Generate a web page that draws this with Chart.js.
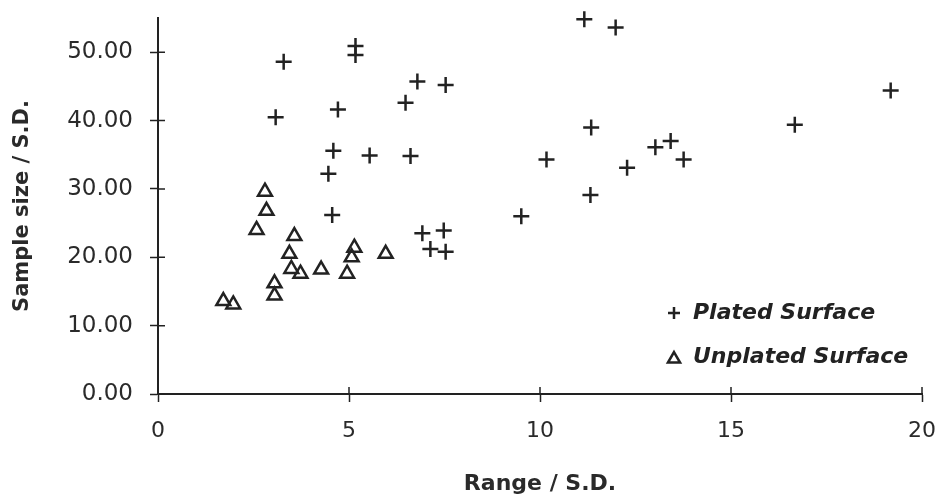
<!DOCTYPE html>
<html lang="en">
<head>
    <meta charset="UTF-8">
    <title>Sample size vs Range</title>
    <script src="https://cdn.jsdelivr.net/npm/chart.js"></script>
    <style>
        body {
            margin: 0;
            background-color: #fff;
        }

        #chart-container {
            width: 943px;
            height: 499px;
        }
    </style>
</head>
<body>
    <div id="chart-container">
        <canvas id="scatterChart"></canvas>
    </div>

    <script>
        // values
        const platedX = [3.29, 5.17, 5.17, 6.79, 7.53, 6.48, 3.08, 4.71, 4.59, 5.54, 6.61, 4.46, 4.56, 6.92, 7.48, 7.13, 7.53,
                         11.16, 11.98, 11.34, 10.17, 13.02, 13.42, 13.76, 12.28, 11.32, 9.51, 16.67, 19.18];
        const platedY = [48.6, 50.9, 49.6, 45.7, 45.2, 42.6, 40.5, 41.6, 35.6, 34.9, 34.8, 32.2, 26.2, 23.5, 23.9, 21.2, 20.8,
                         54.8, 53.6, 39.0, 34.3, 36.1, 37.0, 34.3, 33.1, 29.1, 26.0, 39.4, 44.4];

        const unplatedX = [2.80, 2.84, 2.58, 3.57, 3.44, 3.49, 3.73, 4.27, 4.95, 5.07, 5.14, 5.96, 3.05, 3.05, 1.71, 1.97];
        const unplatedY = [29.6, 26.8, 24.0, 23.1, 20.5, 18.3, 17.6, 18.2, 17.6, 20.0, 21.4, 20.5, 16.2, 14.4, 13.6, 13.1];

        const xTicks = [0, 5, 10, 15, 20];
        const yTicks = [0, 10, 20, 30, 40, 50];

        const seriesNames = ["Plated Surface", "Unplated Surface"];

        const ink = "#222";

        function toPoints(xs, ys) {
            return xs.map((x, i) => ({ x: x, y: ys[i] }));
        }

        // no extra room for half labels, the plot box is set by layout padding
        function noLabelPadding(scale) {
            scale.paddingTop = 0;
            scale.paddingBottom = 0;
            scale.paddingLeft = 0;
            scale.paddingRight = 0;
        }

        // small ticks that cross the axis lines, the way the old plot has them
        const crossTicks = {
            id: "crossTicks",
            afterDraw(chart) {
                const ctx = chart.ctx;
                const xs = chart.scales.x;
                const ys = chart.scales.y;
                ctx.save();
                ctx.strokeStyle = ink;
                ctx.lineWidth = 1.5;
                ctx.beginPath();
                xs.ticks.forEach(t => {
                    const px = xs.getPixelForValue(t.value);
                    ctx.moveTo(px, xs.top);
                    ctx.lineTo(px, xs.top - 7);
                });
                ys.ticks.forEach(t => {
                    const py = ys.getPixelForValue(t.value);
                    ctx.moveTo(ys.right, py);
                    ctx.lineTo(ys.right + 7, py);
                });
                ctx.stroke();
                ctx.restore();
            }
        };

        // legend sits inside the plot, bottom right
        const insideLegend = {
            id: "insideLegend",
            afterDraw(chart) {
                const ctx = chart.ctx;
                const styles = ["cross", "triangle"];
                const radius = [6, 7];
                const rows = [313, 357];
                ctx.save();
                ctx.font = "italic bold 22px 'DejaVu Sans'";
                ctx.textBaseline = "middle";
                seriesNames.forEach((name, i) => {
                    ctx.strokeStyle = ink;
                    ctx.fillStyle = "rgba(255,255,255,0)";
                    ctx.lineWidth = 2.5;
                    Chart.helpers.drawPoint(ctx, {
                        pointStyle: styles[i],
                        radius: radius[i],
                        borderWidth: 2.5,
                        rotation: 0
                    }, 674, rows[i] + (i === 1 ? 2 : 0));
                    ctx.fillStyle = ink;
                    ctx.fillText(name, 693, rows[i]);
                });
                ctx.restore();
            }
        };

        function renderChart() {
            const ctx = document.getElementById("scatterChart").getContext("2d");

            new Chart(ctx, {
                type: "scatter",
                data: {
                    datasets: [
                        {
                            label: seriesNames[0],
                            data: toPoints(platedX, platedY),
                            pointStyle: "cross",
                            pointRadius: 8,
                            borderColor: ink,
                            backgroundColor: ink,
                            borderWidth: 2.5,
                            clip: false
                        },
                        {
                            label: seriesNames[1],
                            data: toPoints(unplatedX, unplatedY),
                            pointStyle: "triangle",
                            pointRadius: 8,
                            borderColor: ink,
                            backgroundColor: "rgba(255,255,255,0)",
                            borderWidth: 2.5,
                            clip: false
                        }
                    ]
                },
                options: {
                    responsive: true,
                    maintainAspectRatio: false,
                    animation: false,
                    layout: {
                        padding: { top: 18, right: 21, left: 0, bottom: 0 }
                    },
                    plugins: {
                        legend: { display: false },
                        tooltip: { enabled: false }
                    },
                    scales: {
                        x: {
                            type: "linear",
                            min: xTicks[0],
                            max: xTicks[xTicks.length - 1],
                            afterBuildTicks: scale => {
                                scale.ticks = xTicks.map(v => ({ value: v }));
                            },
                            afterFit: scale => {
                                scale.height = 105;
                                noLabelPadding(scale);
                            },
                            grid: {
                                drawOnChartArea: false,
                                tickLength: 8,
                                tickColor: ink,
                                tickWidth: 1.5
                            },
                            border: { color: ink, width: 2 },
                            ticks: {
                                color: "#2a2a2a",
                                padding: 16,
                                font: { family: "'DejaVu Sans'", size: 22 }
                            },
                            title: {
                                display: true,
                                text: "Range / S.D.",
                                color: "#2a2a2a",
                                padding: { top: 0, bottom: 2 },
                                font: { family: "'DejaVu Sans'", size: 22, weight: "bold" }
                            }
                        },
                        y: {
                            min: 0,
                            max: 55,
                            afterBuildTicks: scale => {
                                scale.ticks = yTicks.map(v => ({ value: v }));
                            },
                            afterFit: scale => {
                                scale.width = 158;
                                noLabelPadding(scale);
                            },
                            grid: {
                                drawOnChartArea: false,
                                tickLength: 8,
                                tickColor: ink,
                                tickWidth: 1.5
                            },
                            border: { color: ink, width: 2 },
                            ticks: {
                                color: "#2a2a2a",
                                padding: 17,
                                font: { family: "'DejaVu Sans'", size: 23 },
                                callback: value => value.toFixed(2)
                            },
                            title: {
                                display: true,
                                text: "Sample size / S.D.",
                                color: "#2a2a2a",
                                padding: { top: 10, bottom: 0 },
                                font: { family: "'DejaVu Sans'", size: 21, weight: "bold" }
                            }
                        }
                    }
                },
                plugins: [crossTicks, insideLegend]
            });
        }

        document.addEventListener("DOMContentLoaded", renderChart);
    </script>
</body>
</html>
